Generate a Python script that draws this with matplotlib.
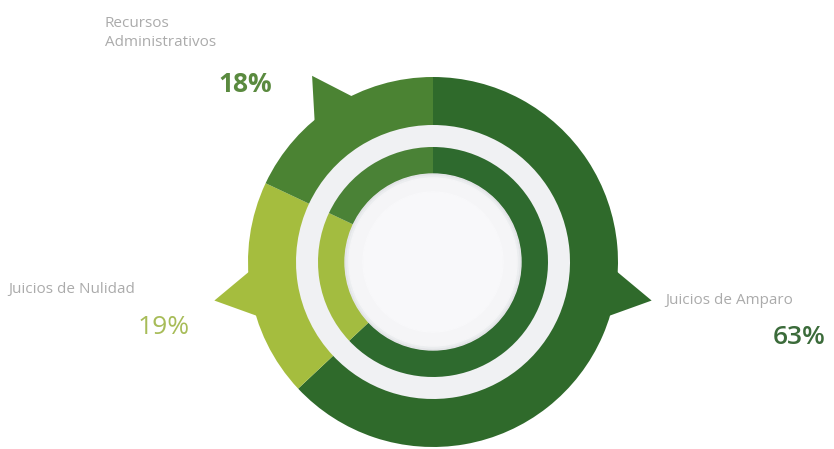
import numpy as np
import matplotlib.pyplot as plt
from matplotlib.patches import Circle, Polygon

categories = ["Juicios de Amparo", "Juicios de Nulidad", "Recursos\nAdministrativos"]
shares = [63, 19, 18]
pct_labels = ["63%", "19%", "18%"]

outer_colors = ["#2f6a2b", "#a5bd3e", "#4b8333"]
inner_colors = ["#2e6a2e", "#a3bc40", "#4a8236"]
pct_colors = ["#3b6b3a", "#a7bc58", "#5a8a3f"]

plt.rcParams['font.family'] = ['Open Sans', 'DejaVu Sans']

fig = plt.figure(figsize=(8.34, 4.49), dpi=100)
ax = fig.add_axes([0, 0, 1, 1])

cx, cy = 433, 187

# light backdrop between the rings
ax.add_patch(Circle((cx, cy), 140, color="#f0f1f3", zorder=0))

# outer ring
ax.pie(shares, radius=185, center=(cx, cy), startangle=90, counterclock=False,
       colors=outer_colors, wedgeprops=dict(width=48, linewidth=0))

# arrow fins on the outer ring
fin_angles = [-10, 190, 123]
for ang, col in zip(fin_angles, outer_colors):
    a = np.deg2rad(ang)
    d = np.deg2rad(8)
    pts = [(cx + 180 * np.cos(a - d), cy + 180 * np.sin(a - d)),
           (cx + 222 * np.cos(a), cy + 222 * np.sin(a)),
           (cx + 180 * np.cos(a + d), cy + 180 * np.sin(a + d))]
    ax.add_patch(Polygon(pts, closed=True, color=col, linewidth=0, zorder=3))

# inner ring
ax.pie(shares, radius=115, center=(cx, cy), startangle=90, counterclock=False,
       colors=inner_colors, wedgeprops=dict(width=30, linewidth=0))

# soft shadow + centre disc
for r, c in [(88, "#e4e5e8"), (86, "#eceef0")]:
    ax.add_patch(Circle((cx, cy), r, color=c, zorder=4))
ax.add_patch(Circle((cx, cy), 84, color="#f5f5f7", zorder=4))
ax.add_patch(Circle((cx, cy), 70, color="#f8f8fa", zorder=4))

ax.set_xlim(0, 834)
ax.set_ylim(0, 449)
ax.set_aspect('equal')
ax.axis('off')

label_color = "#ababab"
# Juicios de Amparo
ax.text(665, 148, categories[0], fontsize=11, color=label_color, ha='left', va='center')
ax.text(826, 112, pct_labels[0], fontsize=19, color=pct_colors[0], ha='right',
        va='center', fontweight='semibold')
# Juicios de Nulidad
ax.text(8, 160, categories[1], fontsize=11, color=label_color, ha='left', va='center')
ax.text(190, 121, pct_labels[1], fontsize=19, color=pct_colors[1], ha='right', va='center')
# Recursos Administrativos
ax.text(105, 416, categories[2], fontsize=11, color=label_color, ha='left', va='center',
        linespacing=1.3)
ax.text(272, 365, pct_labels[2], fontsize=19, color=pct_colors[2], ha='right',
        va='center', fontweight='bold')

fig.savefig("out.png", dpi=100)
